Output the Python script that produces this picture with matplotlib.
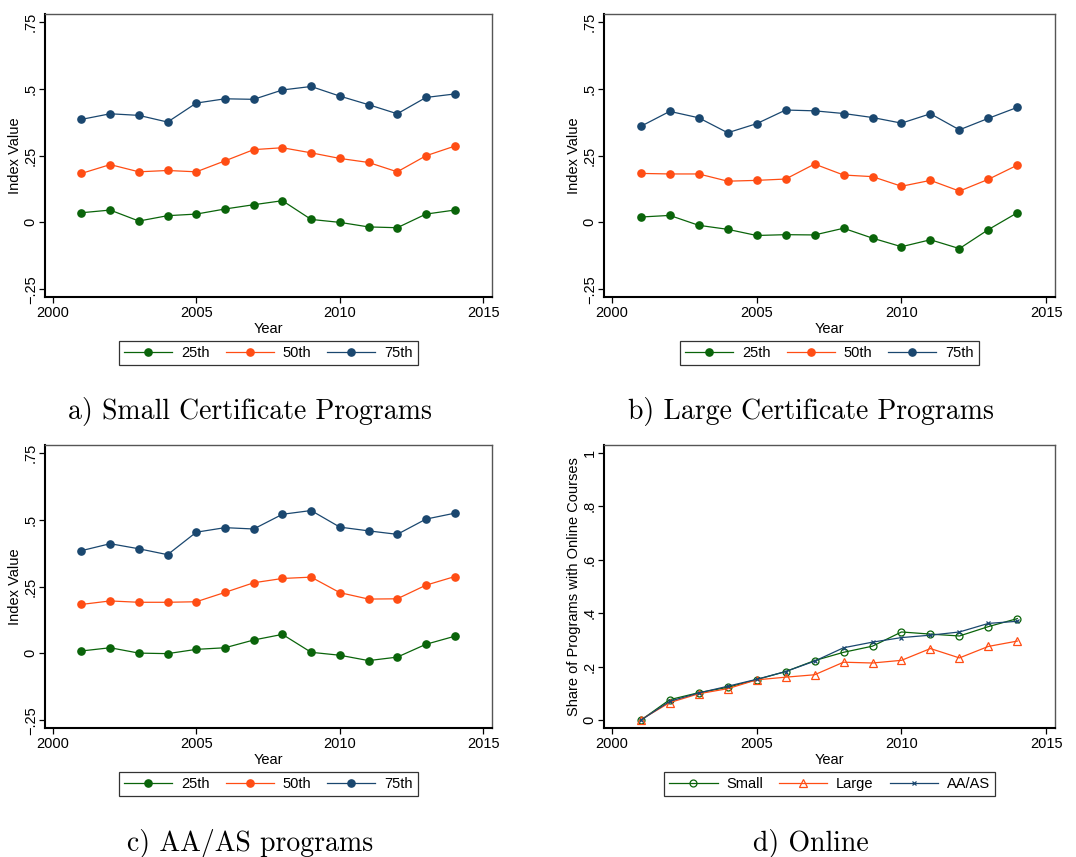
import matplotlib
matplotlib.use("Agg")
import matplotlib.pyplot as plt

years = list(range(2001, 2015))

# a) small certificate programs
small_p25 = [0.036, 0.046, 0.005, 0.025, 0.031, 0.050, 0.066, 0.081, 0.011, 0.000, -0.017, -0.020, 0.031, 0.046]
small_p50 = [0.183, 0.216, 0.189, 0.194, 0.189, 0.230, 0.272, 0.279, 0.260, 0.239, 0.224, 0.189, 0.249, 0.285]
small_p75 = [0.385, 0.406, 0.400, 0.375, 0.446, 0.462, 0.460, 0.495, 0.508, 0.472, 0.440, 0.406, 0.467, 0.480]

# b) large certificate programs
large_p25 = [0.020, 0.026, -0.011, -0.026, -0.049, -0.046, -0.047, -0.022, -0.059, -0.091, -0.065, -0.098, -0.027, 0.036]
large_p50 = [0.183, 0.181, 0.181, 0.154, 0.157, 0.162, 0.218, 0.177, 0.171, 0.135, 0.157, 0.117, 0.161, 0.214]
large_p75 = [0.359, 0.415, 0.391, 0.335, 0.369, 0.420, 0.417, 0.407, 0.392, 0.371, 0.406, 0.346, 0.389, 0.430]

# c) AA/AS programs
aa_p25 = [0.009, 0.021, 0.001, -0.001, 0.015, 0.021, 0.050, 0.071, 0.004, -0.007, -0.027, -0.014, 0.034, 0.064]
aa_p50 = [0.183, 0.196, 0.191, 0.191, 0.193, 0.228, 0.264, 0.280, 0.285, 0.227, 0.203, 0.204, 0.255, 0.287]
aa_p75 = [0.384, 0.410, 0.391, 0.369, 0.453, 0.470, 0.465, 0.520, 0.534, 0.472, 0.458, 0.445, 0.502, 0.524]

# d) share of programs with online courses
online_small = [0.000, 0.077, 0.103, 0.123, 0.152, 0.182, 0.223, 0.254, 0.277, 0.330, 0.322, 0.315, 0.350, 0.380]
online_large = [0.002, 0.066, 0.099, 0.118, 0.151, 0.161, 0.170, 0.217, 0.214, 0.224, 0.268, 0.233, 0.276, 0.296]
online_aa = [0.000, 0.071, 0.102, 0.127, 0.153, 0.182, 0.221, 0.271, 0.292, 0.309, 0.318, 0.330, 0.362, 0.370]

pct_labels = ["25th", "50th", "75th"]
online_labels = ["Small", "Large", "AA/AS"]
captions = ["a) Small Certificate Programs", "b) Large Certificate Programs",
            "c) AA/AS programs", "d) Online"]

green = "#0a640a"
orange = "#ff4d14"
navy = "#1a476f"

plt.rcParams['font.family'] = ['Liberation Sans', 'DejaVu Sans']

W, H = 1076, 857
FS = 10.5
fig = plt.figure(figsize=(W / 100, H / 100), dpi=100)


def style_axes(ax):
    for s in ax.spines.values():
        s.set_color("#555555")
        s.set_linewidth(1.0)
    for side in ['left', 'bottom']:
        ax.spines[side].set_color("black")
        ax.spines[side].set_linewidth(1.5)
    ax.set_xlim(1999.73, 2015.3)
    ax.set_xticks([2000, 2005, 2010, 2015])
    ax.tick_params(direction='out', length=4.2, width=0.9, labelsize=FS, colors="black")
    ax.tick_params(axis='x', pad=2.5)
    ax.tick_params(axis='y', pad=1.0)
    for lbl in ax.get_yticklabels():
        lbl.set_rotation(90)
        lbl.set_va('center')
    ax.set_xlabel("Year", fontsize=FS, labelpad=1)


def add_legend(ax):
    leg = ax.legend(loc='upper center', bbox_to_anchor=(0.5, -0.155), ncol=3,
                    fontsize=FS, frameon=True, fancybox=False, handlelength=3.3,
                    columnspacing=1.1, borderpad=0.35, handletextpad=0.6,
                    borderaxespad=0)
    leg.get_frame().set_edgecolor("black")
    leg.get_frame().set_linewidth(0.9)


def pct_panel(rect, p25, p50, p75):
    ax = fig.add_axes(rect)
    for vals, col, lab in zip([p25, p50, p75], [green, orange, navy], pct_labels):
        ax.plot(years, vals, color=col, lw=0.9, marker='o', ms=5.2, label=lab)
    ax.set_ylim(-0.279, 0.779)
    ax.set_yticks([-0.25, 0, 0.25, 0.5, 0.75])
    ax.set_yticklabels(["\u2212.25", "0", ".25", ".5", ".75"])
    ax.set_ylabel("Index Value", fontsize=FS, labelpad=1)
    style_axes(ax)
    add_legend(ax)
    return ax


hgt = 283 / H
pct_panel([45 / W, 1 - 297 / H, 447 / W, hgt], small_p25, small_p50, small_p75)
pct_panel([604 / W, 1 - 297 / H, 451 / W, hgt], large_p25, large_p50, large_p75)
pct_panel([45 / W, 1 - 728 / H, 447 / W, hgt], aa_p25, aa_p50, aa_p75)

ax = fig.add_axes([604 / W, 1 - 728 / H, 451 / W, hgt])
ax.plot(years, online_small, color=green, lw=0.9, marker='o', ms=5, mfc='none', mew=0.9, label=online_labels[0])
ax.plot(years, online_large, color=orange, lw=0.9, marker='^', ms=5.5, mfc='none', mew=0.9, label=online_labels[1])
ax.plot(years, online_aa, color=navy, lw=0.9, marker='x', ms=3.5, mew=0.9, label=online_labels[2])
ax.set_ylim(-0.029, 1.029)
ax.set_yticks([0, 0.2, 0.4, 0.6, 0.8, 1])
ax.set_yticklabels(["0", ".2", ".4", ".6", ".8", "1"])
ax.set_ylabel("Share of Programs with Online Courses", fontsize=FS, labelpad=1)
style_axes(ax)
add_legend(ax)

cap_pos = [(250, 411), (811, 411), (250, 843), (811, 843)]
for (cx, cy), txt in zip(cap_pos, captions):
    fig.text(cx / W, 1 - cy / H, txt, ha='center', va='center', fontsize=20, family='cmr10')

fig.savefig("out.png", dpi=100, facecolor="white")
